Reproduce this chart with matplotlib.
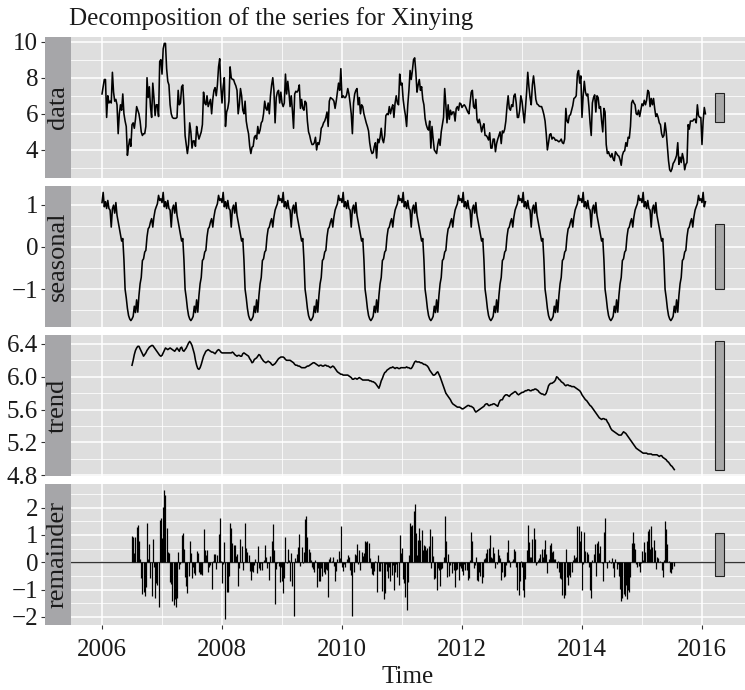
import numpy as np
import matplotlib.pyplot as plt
from matplotlib.ticker import FixedLocator, MultipleLocator

plt.rcParams['font.family'] = ['Liberation Serif', 'DejaVu Serif']

# weekly series, first week = 2006.0
start_year = 2006
freq = 52

data = np.array([
    7.1, 7.5, 7.9, 7.9, 5.8, 7.0, 6.6, 6.7, 6.6, 8.3,
    7.2, 6.7, 6.8, 6.5, 4.9, 6.0, 6.5, 6.2, 7.1, 6.0,
    5.6, 5.3, 3.7, 4.2, 4.6, 4.2, 5.4, 5.5, 5.2, 5.7,
    6.4, 6.2, 6.0, 5.6, 5.0, 4.8, 4.9, 4.9, 5.3, 8.0,
    6.9, 7.5, 6.4, 5.8, 7.7, 6.9, 5.9, 6.5, 6.5, 5.85,
    8.9, 9.0, 8.2, 9.6, 9.9, 9.9, 8.5, 7.8, 7.6, 6.5,
    6.0, 5.8, 5.75, 5.75, 5.75, 5.8, 7.3, 6.5, 6.6, 7.5,
    7.6, 6.5, 4.8, 4.3, 3.8, 4.3, 5.5, 5.0, 4.1, 4.5,
    4.5, 4.2, 5.3, 4.9, 4.6, 4.8, 5.0, 5.4, 7.2, 6.6,
    6.5, 7.0, 6.4, 6.6, 6.8, 6.0, 6.8, 7.3, 7.45, 7.0,
    7.6, 8.6, 9.05, 7.5, 6.6, 7.5, 8.0, 5.3, 6.1, 6.3,
    6.7, 8.6, 8.0, 7.9, 7.9, 7.7, 7.55, 7.3, 6.0, 6.5,
    7.4, 7.0, 6.2, 6.0, 6.7, 5.6, 5.2, 4.9, 4.2, 3.8,
    4.15, 4.2, 4.7, 4.8, 4.6, 5.3, 4.9,
    5.1, 5.5, 5.6, 6.0, 6.7, 6.3, 6.2, 6.6, 6.0, 7.0,
    7.6, 8.0, 7.3, 5.5, 6.9, 7.2, 7.3, 6.6, 7.2, 6.6,
    6.4, 6.6, 8.2, 7.1, 7.8, 7.2, 6.4, 7.0, 6.2, 5.2,
    7.1, 7.25, 7.2, 7.3, 7.6, 6.3, 6.8, 6.3, 6.2, 6.7,
    6.6, 5.6, 5.0, 4.8, 4.5, 4.3, 4.3, 4.4, 4.7, 4.0,
    4.4, 4.3, 4.6, 5.2, 5.3, 5.5, 5.6, 5.8, 6.1, 5.3,
    6.7, 6.9, 6.85, 6.8, 6.7, 6.3, 6.7, 7.2, 7.7, 7.3,
    8.5, 6.9, 7.0, 6.9, 6.9, 7.05, 7.4, 7.1, 6.6, 6.0,
    4.9, 6.6, 7.1, 7.3, 7.4, 6.5, 6.9, 6.0, 6.5, 6.4,
    6.0, 5.75, 5.5, 5.3, 5.05, 4.4, 4.0, 3.8, 3.85, 4.2,
    4.4, 3.55, 4.6, 4.4, 4.7, 5.2, 4.6, 4.4, 4.8, 5.9,
    6.0, 5.95, 6.4, 6.0, 6.3, 6.5, 5.8, 6.6, 7.0, 6.6,
    6.5, 8.2, 7.6, 7.7, 6.8, 6.3, 5.9, 5.3, 6.5, 7.3,
    8.4, 7.9, 8.4, 9.0, 9.1,
    8.3, 7.2, 7.6, 7.9, 7.3, 7.5, 6.8, 6.5, 5.75, 5.4,
    5.2, 5.1, 5.6, 4.1, 5.3, 4.6, 4.0, 3.9, 3.8, 4.3,
    4.6, 4.25, 5.0, 5.4, 5.8, 7.4, 6.5, 5.5, 6.5, 5.7,
    6.2, 5.95, 6.1, 6.1, 5.6, 6.3, 6.4, 6.2, 6.6, 6.55,
    6.35, 6.45, 6.5, 6.4, 6.25, 6.1, 6.0, 6.6, 7.2, 7.3,
    6.4, 6.3, 6.8, 5.7, 5.5, 5.7, 5.4, 5.0, 5.28, 5.45,
    4.8, 4.8, 4.7, 4.55, 4.95, 4.1, 4.1, 4.6, 4.6, 3.9,
    4.35, 4.6, 4.8, 5.0, 4.35, 5.05, 4.95, 5.15, 5.6, 6.4,
    7.0, 6.3, 6.2, 6.5, 6.4, 7.0, 7.1, 6.6, 5.8, 5.8,
    6.2, 7.0, 6.7, 6.1, 5.5, 6.3, 7.2, 8.3, 7.5, 6.9,
    6.5, 7.6, 8.1, 7.5, 6.8, 6.55, 6.5, 6.42, 6.4, 6.4,
    6.2, 5.95, 5.6, 4.9, 4.0, 4.4, 4.85, 4.9, 4.6, 4.7,
    4.65, 4.53, 4.55, 4.5, 4.45, 4.5, 4.6, 4.4, 4.35, 4.6,
    6.3, 5.6, 5.5, 5.9,
    5.95, 6.2, 6.45, 6.85, 6.9, 7.0, 8.2, 8.4, 7.7, 8.1,
    5.8, 7.0, 7.8, 7.2, 7.0, 7.1, 6.4, 5.5, 4.8, 6.6,
    6.9, 7.05, 6.1, 7.0, 6.9, 6.3, 6.4, 5.6, 5.0, 6.3,
    6.1, 4.3, 3.8, 3.9, 3.7, 3.6, 3.8, 3.5, 3.4, 3.9,
    3.8, 3.7, 3.65, 3.45, 3.15, 3.7, 3.9, 3.95, 4.4, 4.2,
    4.7, 4.65, 5.3, 6.6, 6.75, 6.6, 6.5, 6.0, 5.95, 6.2,
    5.85, 6.2, 6.55, 6.45, 6.75, 6.5, 6.75, 7.3, 7.2, 6.4,
    6.85, 6.5, 6.85, 6.3, 5.85, 6.0, 5.8, 5.5, 5.4, 4.9,
    4.7, 4.8, 5.5, 5.0, 4.2, 3.4, 2.9, 2.8, 2.95, 3.25,
    3.35, 3.5, 3.7, 4.4, 3.2, 3.6, 3.3, 3.8, 3.5, 2.9,
    3.2, 3.3, 5.4, 5.15, 5.6, 5.6, 5.6, 5.7, 5.7, 5.5,
    6.5, 5.9, 5.8, 5.8, 4.3, 5.6, 6.35, 6.0,
])

# one year of the seasonal component (repeats every year)
seasonal_pattern = np.array([
    1.05, 1.29, 0.95, 1.07, 0.91, 1.1, 0.91, 0.87, 0.47, 0.9,
    0.99, 0.8, 1.05, 0.75, 0.6, 0.45, 0.3, 0.14, 0.2, -0.3,
    -1.0, -1.2, -1.45, -1.62, -1.7, -1.74, -1.7, -1.64, -1.4, -1.55,
    -1.25, -1.54, -1.15, -0.87, -0.72, -0.32, -0.28, -0.12, -0.08, 0.24,
    0.43, 0.47, 0.59, 0.67, 0.47, 0.71, 0.87, 0.95, 1.02, 1.22,
    1.1, 1.14,
])

# trend starts half a year in (centred moving average)
trend_start = 26
trend_values = np.array([
    6.14, 6.2, 6.27, 6.32, 6.35, 6.37, 6.37, 6.34, 6.31, 6.28,
    6.25, 6.27, 6.29, 6.32, 6.34, 6.36, 6.37, 6.38, 6.38, 6.36,
    6.34, 6.32, 6.3, 6.28, 6.26, 6.25, 6.26, 6.29, 6.32, 6.35,
    6.34, 6.33, 6.34, 6.35, 6.34, 6.33, 6.32, 6.31, 6.33, 6.35,
    6.33, 6.31, 6.35, 6.36, 6.32, 6.31, 6.33, 6.35, 6.38, 6.41,
    6.43, 6.41, 6.38, 6.33, 6.28, 6.2, 6.14, 6.1, 6.09, 6.11,
    6.15, 6.2, 6.25, 6.28, 6.31, 6.32, 6.33, 6.32, 6.31, 6.3,
    6.3, 6.29, 6.28, 6.3, 6.32, 6.33, 6.32, 6.3, 6.29, 6.29,
    6.29, 6.29, 6.29, 6.29, 6.29, 6.29, 6.29, 6.3, 6.29, 6.27,
    6.26, 6.25, 6.26, 6.26, 6.25, 6.25, 6.28, 6.29, 6.28, 6.27,
    6.26, 6.25, 6.22, 6.2, 6.17, 6.18, 6.21, 6.22, 6.23, 6.25,
    6.27, 6.26, 6.23, 6.21, 6.19, 6.18, 6.17, 6.18, 6.19, 6.18,
    6.17, 6.15, 6.14, 6.15, 6.16, 6.18, 6.2, 6.22, 6.23, 6.24,
    6.24, 6.24, 6.23, 6.21, 6.2, 6.2, 6.2, 6.2, 6.19, 6.18,
    6.17, 6.15, 6.14, 6.14, 6.13, 6.13, 6.12, 6.11, 6.11, 6.11,
    6.11, 6.12, 6.13, 6.13, 6.14, 6.15, 6.16, 6.17, 6.17, 6.16,
    6.15, 6.14, 6.13, 6.14, 6.14, 6.13, 6.13, 6.14, 6.14, 6.13,
    6.13, 6.12, 6.11, 6.12, 6.13, 6.12, 6.1, 6.08, 6.06, 6.05,
    6.04, 6.03, 6.03, 6.02, 6.02, 6.02, 6.02, 6.02, 6.01, 6.0,
    5.99, 5.97, 5.97, 5.98, 5.98, 5.97, 5.98, 5.99, 5.98, 5.97,
    5.96, 5.96, 5.96, 5.96, 5.96, 5.96, 5.95, 5.95, 5.94, 5.94,
    5.93, 5.92, 5.9, 5.88, 5.86, 5.9, 5.95, 5.98, 6.02, 6.05,
    6.06, 6.08, 6.09, 6.1, 6.11, 6.11, 6.12, 6.11, 6.1, 6.11,
    6.11, 6.1, 6.1, 6.11, 6.11, 6.11, 6.11, 6.11, 6.12, 6.11,
    6.11, 6.1, 6.1, 6.12, 6.15, 6.18, 6.19, 6.18, 6.18, 6.18,
    6.17, 6.17, 6.16, 6.15, 6.15, 6.14, 6.13, 6.11, 6.08, 6.06,
    6.04, 6.02, 6.02, 6.03, 6.05, 6.06, 6.03, 6.0, 5.96, 5.92,
    5.88, 5.84, 5.8, 5.78, 5.76, 5.74, 5.72, 5.69, 5.67, 5.66,
    5.65, 5.64, 5.63, 5.63, 5.63, 5.62, 5.61, 5.61, 5.62, 5.63,
    5.64, 5.65, 5.65, 5.64, 5.64, 5.63, 5.62, 5.59, 5.57, 5.58,
    5.59, 5.6, 5.61, 5.62, 5.63, 5.64, 5.66, 5.67, 5.67, 5.65,
    5.65, 5.66, 5.66, 5.67, 5.67, 5.66, 5.65, 5.64, 5.68, 5.71,
    5.72, 5.72, 5.75, 5.77, 5.78, 5.78, 5.77, 5.76, 5.78, 5.79,
    5.8, 5.81, 5.82, 5.81, 5.79, 5.78, 5.79, 5.8, 5.81, 5.81,
    5.82, 5.83, 5.83, 5.84, 5.84, 5.83, 5.83, 5.84, 5.84, 5.85,
    5.85, 5.84, 5.83, 5.81, 5.8, 5.79, 5.79, 5.78, 5.78, 5.8,
    5.84, 5.89, 5.91, 5.92, 5.92, 5.93, 5.94, 5.96, 6.0, 5.99,
    5.97, 5.96, 5.94, 5.93, 5.92, 5.9, 5.89, 5.9, 5.9, 5.89,
    5.89, 5.88, 5.88, 5.88, 5.87, 5.86, 5.85, 5.84, 5.83, 5.81,
    5.78, 5.76, 5.74, 5.72, 5.71, 5.69, 5.67, 5.65, 5.64, 5.62,
    5.6, 5.58, 5.56, 5.54, 5.52, 5.5, 5.49, 5.48, 5.49, 5.49,
    5.48, 5.48, 5.45, 5.43, 5.4, 5.37, 5.35, 5.34, 5.33, 5.32,
    5.31, 5.3, 5.29, 5.29, 5.29, 5.31, 5.33, 5.32, 5.31, 5.29,
    5.27, 5.25, 5.23, 5.21, 5.19, 5.17, 5.15, 5.13, 5.12, 5.11,
    5.1, 5.09, 5.08, 5.07, 5.07, 5.07, 5.07, 5.06, 5.06, 5.06,
    5.06, 5.05, 5.05, 5.05, 5.05, 5.05, 5.04, 5.03, 5.04, 5.04,
    5.02, 5.01, 5.0, 4.99, 4.97, 4.96, 4.94, 4.92, 4.91, 4.89, 4.87,
])

n = len(data)
time = start_year + np.arange(n) / freq
seasonal = np.resize(seasonal_pattern, n)
trend = np.full(n, np.nan)
trend[trend_start:trend_start + len(trend_values)] = trend_values
remainder = data - seasonal - trend

parts = [
    ("data", data, [4, 6, 8, 10], "{:.0f}"),
    ("seasonal", seasonal, [-1, 0, 1], "{:.0f}"),
    ("trend", trend, [4.8, 5.2, 5.6, 6.0, 6.4], "{:.1f}"),
    ("remainder", remainder, [-2, -1, 0, 1, 2], "{:.0f}"),
]

# range bars (same length in every panel, like forecast::autoplot)
barlength = min(np.nanmax(v) - np.nanmin(v) for _, v, _, _ in parts)
xr = (time[0], time[-1])
barwidth = (xr[1] - xr[0]) / 64

W, H = 745, 690
fig = plt.figure(figsize=(W / 100, H / 100), dpi=100)
left_px, right_px = 71, 745
strip_px = 26
tops = [37, 186, 335, 484]
ph = 141

panel_bg = "#DEDEDE"
strip_bg = "#A6A6A9"
txt = "#1A1A1A"

for i, (name, vals, yt, fmt) in enumerate(parts):
    top = tops[i]
    rect = [left_px / W, 1 - (top + ph) / H, (right_px - left_px) / W, ph / H]
    ax = fig.add_axes(rect)
    ax.set_facecolor(panel_bg)
    ax.set_axisbelow(True)

    if name == "remainder":
        ax.axhline(0, color="#333333", lw=1.0, zorder=2)
        ax.vlines(time, 0, vals, color="black", lw=0.9, zorder=2)
    else:
        ax.plot(time, vals, color="black", lw=1.15, zorder=2)

    mid = (np.nanmax(vals) + np.nanmin(vals)) / 2
    ax.bar(xr[1] + barwidth, barlength, width=barwidth, bottom=mid - barlength / 2,
           align="edge", color="#A9A9A9", edgecolor="#222222", lw=0.8, zorder=3)

    lo, hi = np.nanmin(vals), np.nanmax(vals)
    pad = 0.05 * (hi - lo)
    ax.set_ylim(lo - pad, hi + pad)
    ax.set_xlim(2005.483, 2016.717)

    ax.set_yticks(yt)
    ax.set_yticklabels([fmt.format(v).replace("-", "\u2212") for v in yt])
    step = yt[1] - yt[0]
    ax.yaxis.set_minor_locator(FixedLocator(np.arange(yt[0] - step * 1.5, yt[-1] + step, step)))
    ax.xaxis.set_major_locator(MultipleLocator(2))
    ax.xaxis.set_minor_locator(MultipleLocator(1))
    ax.grid(which="major", color="white", lw=1.1)
    ax.grid(which="minor", color="white", lw=0.55)

    for s in ax.spines.values():
        s.set_visible(False)
    ax.spines["left"].set_position(("outward", strip_px * 0.72))

    ax.tick_params(axis="y", which="major", length=2.75, width=0.8, color="#333333",
                   labelsize=18, labelcolor=txt, pad=2.2)
    ax.tick_params(which="minor", length=0)
    if i < 3:
        ax.tick_params(axis="x", which="major", length=0, labelbottom=False)
    else:
        ax.tick_params(axis="x", which="major", length=2.75, width=0.8, color="#333333",
                       labelsize=18, labelcolor=txt, pad=7)
        ax.set_xticks(range(2006, 2017, 2))

    sax = fig.add_axes([(left_px - strip_px) / W, 1 - (top + ph) / H, strip_px / W, ph / H])
    sax.set_facecolor(strip_bg)
    sax.set_xticks([])
    sax.set_yticks([])
    for s in sax.spines.values():
        s.set_visible(False)
    sax.text(0.5, 0.5, name, rotation=90, ha="center", va="center",
             fontsize=19, color=txt, transform=sax.transAxes)

fig.text(69 / W, 1 - 25 / H, "Decomposition of the series for Xinying",
         ha="left", va="baseline", fontsize=18, color=txt)
fig.text((left_px + right_px) / 2 / W, 1 - 683 / H, "Time",
         ha="center", va="baseline", fontsize=18, color=txt)

fig.savefig("out.png", dpi=100)
